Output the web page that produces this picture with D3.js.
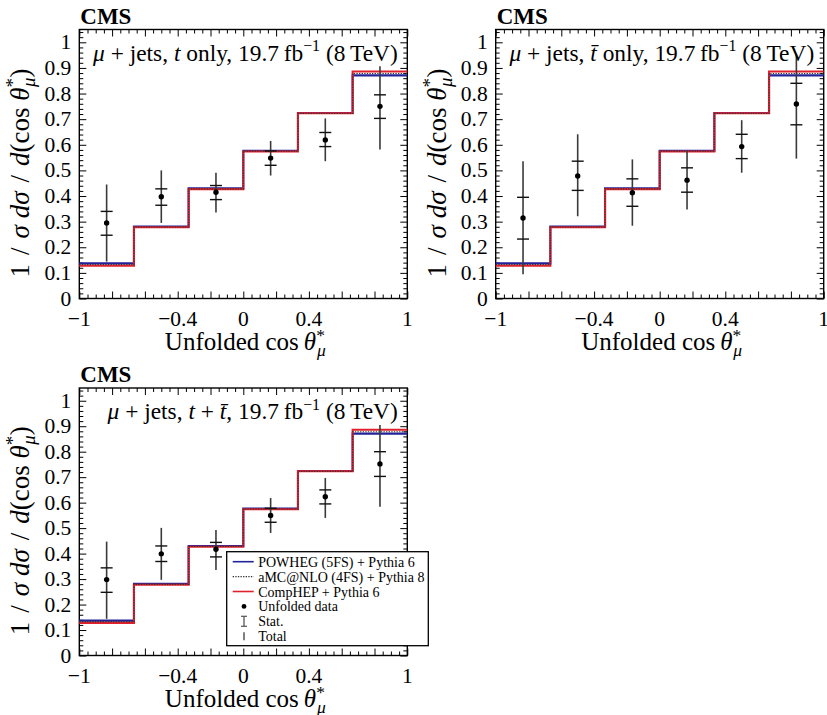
<!DOCTYPE html>
<html>
<head>
<meta charset="utf-8">
<script src="https://cdn.jsdelivr.net/npm/d3@7"></script>
<style>
  html, body { margin: 0; padding: 0; background: #fff; }
  svg { display: block; }
  text { font-family: "Liberation Serif", "DejaVu Serif", serif; fill: #000; }
</style>
</head>
<body>
<svg id="chart" width="827" height="715"></svg>
<script>
// Bin edges and centres of the unfolded cos(theta*_mu) distribution
const binEdges = [-1, -2 / 3, -1 / 3, 0, 1 / 3, 2 / 3, 1];
const binCenters = [-5 / 6, -1 / 2, -1 / 6, 1 / 6, 1 / 2, 5 / 6];

// Simulation predictions (normalised differential cross section)
const powhegValues = [0.137, 0.281, 0.430, 0.577, 0.724, 0.871];
const amcnloValues = [0.133, 0.279, 0.428, 0.575, 0.722, 0.878];
const comphepValues = [0.128, 0.278, 0.427, 0.574, 0.723, 0.886];

// Unfolded data: t only
const tOnlyValues = [0.295, 0.397, 0.415, 0.548, 0.619, 0.750];
const tOnlyStatLow = [0.247, 0.364, 0.386, 0.520, 0.593, 0.703];
const tOnlyStatHigh = [0.340, 0.428, 0.441, 0.576, 0.648, 0.795];
const tOnlyTotalLow = [0.144, 0.295, 0.336, 0.480, 0.536, 0.582];
const tOnlyTotalHigh = [0.445, 0.500, 0.491, 0.615, 0.703, 0.907];

// Unfolded data: tbar only
const tbarOnlyValues = [0.314, 0.478, 0.413, 0.462, 0.593, 0.759];
const tbarOnlyStatLow = [0.232, 0.422, 0.360, 0.415, 0.546, 0.678];
const tbarOnlyStatHigh = [0.395, 0.536, 0.467, 0.510, 0.641, 0.840];
const tbarOnlyTotalLow = [0.095, 0.321, 0.284, 0.347, 0.491, 0.546];
const tbarOnlyTotalHigh = [0.536, 0.641, 0.543, 0.576, 0.696, 0.955];

// Unfolded data: t + tbar
const tSumValues = [0.298, 0.399, 0.417, 0.550, 0.623, 0.752];
const tSumStatLow = [0.248, 0.369, 0.387, 0.523, 0.595, 0.703];
const tSumStatHigh = [0.344, 0.430, 0.444, 0.578, 0.650, 0.800];
const tSumTotalLow = [0.144, 0.297, 0.336, 0.481, 0.540, 0.584];
const tSumTotalHigh = [0.447, 0.501, 0.493, 0.618, 0.697, 0.905];

// Axis ticks
const xMajorTicks = [-1, -0.8, -0.6, -0.4, -0.2, 0, 0.2, 0.4, 0.6, 0.8, 1];
const xLabeledTicks = [-1, -0.4, 0, 0.4, 1];
const xTickLabels = ["\u22121", "\u22120.4", "0", "0.4", "1"];
const yMajorTicks = [0, 0.1, 0.2, 0.3, 0.4, 0.5, 0.6, 0.7, 0.8, 0.9, 1];
const yTickLabels = ["0", "0.1", "0.2", "0.3", "0.4", "0.5", "0.6", "0.7", "0.8", "0.9", "1"];

// Legend entries
const legendLabels = [
  "POWHEG (5FS) + Pythia 6",
  "aMC@NLO (4FS) + Pythia 8",
  "CompHEP + Pythia 6",
  "Unfolded data",
  "Stat.",
  "Total"
];

const BLUE = "#22229a";
const RED = "#e0202c";
const DOTTED = "#303030";

const svg = d3.select("#chart");

const panels = [
  { left: 79.3, right: 407.3, top: 29.5, bottom: 298.5, process: "t",
    values: tOnlyValues, statLow: tOnlyStatLow, statHigh: tOnlyStatHigh,
    totalLow: tOnlyTotalLow, totalHigh: tOnlyTotalHigh },
  { left: 495.7, right: 823.7, top: 29.5, bottom: 298.5, process: "tbar",
    values: tbarOnlyValues, statLow: tbarOnlyStatLow, statHigh: tbarOnlyStatHigh,
    totalLow: tbarOnlyTotalLow, totalHigh: tbarOnlyTotalHigh },
  { left: 79.3, right: 407.3, top: 388, bottom: 655.5, process: "sum",
    values: tSumValues, statLow: tSumStatLow, statHigh: tSumStatHigh,
    totalLow: tSumTotalLow, totalHigh: tSumTotalHigh, legend: true }
];

function range(a, b, step) {
  const out = [];
  const n = Math.round((b - a) / step);
  for (let i = 0; i <= n; i++) out.push(+(a + i * step).toFixed(4));
  return out;
}
const xMinorTicks = range(-1, 1, 0.05).filter(v => !xMajorTicks.some(m => Math.abs(m - v) < 1e-6));
const yMinorTicks = range(0, 1.04, 0.02).filter(v => !yMajorTicks.some(m => Math.abs(m - v) < 1e-6));

function styleAxis(sel) {
  sel.select(".domain").remove();
  sel.selectAll(".tick line").attr("stroke", "#000").attr("stroke-width", 1);
}

// Writes the mathematical parts of a label as italic / shifted tspans
function addRuns(textSel, runs, fs) {
  runs.forEach(r => {
    const t = textSel.append("tspan").text(r.t);
    if (r.i) t.attr("font-style", "italic");
    if (r.s) t.attr("font-size", fs * r.s);
    if (r.dx) t.attr("dx", r.dx);
    if (r.dy) t.attr("dy", r.dy);
  });
}

function drawPanel(p) {
  const g = svg.append("g");
  const x = d3.scaleLinear().domain([-1, 1]).range([p.left, p.right]);
  const y = d3.scaleLinear().domain([0, 1.05]).range([p.bottom, p.top]);

  // ticks on all four sides, pointing inwards
  const majorLen = 7, minorLen = 4;
  const axes = [
    { gen: () => d3.axisBottom(x), tr: `translate(0,${p.bottom})`, major: xMajorTicks, minor: xMinorTicks },
    { gen: () => d3.axisTop(x), tr: `translate(0,${p.top})`, major: xMajorTicks, minor: xMinorTicks },
    { gen: () => d3.axisLeft(y), tr: `translate(${p.left},0)`, major: yMajorTicks, minor: yMinorTicks },
    { gen: () => d3.axisRight(y), tr: `translate(${p.right},0)`, major: yMajorTicks, minor: yMinorTicks }
  ];
  axes.forEach(a => {
    g.append("g").attr("transform", a.tr)
      .call(a.gen().tickValues(a.major).tickSize(-majorLen).tickFormat(""))
      .call(styleAxis);
    g.append("g").attr("transform", a.tr)
      .call(a.gen().tickValues(a.minor).tickSize(-minorLen).tickFormat(""))
      .call(styleAxis);
  });

  // tick labels
  const fsTick = 21.5;
  g.append("g").selectAll("text").data(xLabeledTicks).join("text")
    .attr("x", d => x(d)).attr("y", p.bottom + 27)
    .attr("text-anchor", "middle").attr("font-size", fsTick)
    .text((d, i) => xTickLabels[i]);
  g.append("g").selectAll("text").data(yMajorTicks).join("text")
    .attr("x", p.left - 8).attr("y", d => y(d) + 7)
    .attr("text-anchor", "end").attr("font-size", fsTick)
    .text((d, i) => yTickLabels[i]);

  // frame
  g.append("rect").attr("x", p.left).attr("y", p.top)
    .attr("width", p.right - p.left).attr("height", p.bottom - p.top)
    .attr("fill", "none").attr("stroke", "#000").attr("stroke-width", 1.4);

  // predictions as step histograms
  const step = d3.line().x(d => x(d[0])).y(d => y(d[1])).curve(d3.curveStepAfter);
  const stepPts = vals => binEdges.map((e, i) => [e, vals[Math.min(i, vals.length - 1)]]);
  g.append("path").attr("d", step(stepPts(powhegValues)))
    .attr("fill", "none").attr("stroke", BLUE).attr("stroke-width", 2.1);
  g.append("path").attr("d", step(stepPts(comphepValues)))
    .attr("fill", "none").attr("stroke", RED).attr("stroke-width", 2.1);
  g.append("path").attr("d", step(stepPts(amcnloValues)))
    .attr("fill", "none").attr("stroke", DOTTED).attr("stroke-width", 1.1)
    .attr("stroke-dasharray", "1.3,1.3");

  // data with total and statistical uncertainties
  const pts = binCenters.map((c, i) => ({
    c, v: p.values[i], sl: p.statLow[i], sh: p.statHigh[i], tl: p.totalLow[i], th: p.totalHigh[i]
  }));
  const dg = g.append("g");
  dg.selectAll("line.total").data(pts).join("line").attr("class", "total")
    .attr("x1", d => x(d.c)).attr("x2", d => x(d.c))
    .attr("y1", d => y(d.tl)).attr("y2", d => y(d.th))
    .attr("stroke", "#3a3a3a").attr("stroke-width", 1.6);
  ["sl", "sh"].forEach(k => {
    dg.selectAll("line.cap" + k).data(pts).join("line").attr("class", "cap" + k)
      .attr("x1", d => x(d.c) - 6).attr("x2", d => x(d.c) + 6)
      .attr("y1", d => y(d[k])).attr("y2", d => y(d[k]))
      .attr("stroke", "#111").attr("stroke-width", 1.4);
  });
  dg.selectAll("circle").data(pts).join("circle")
    .attr("cx", d => x(d.c)).attr("cy", d => y(d.v)).attr("r", 2.7).attr("fill", "#000");

  // CMS label
  g.append("text").attr("x", p.left + 1).attr("y", p.top - 6)
    .attr("font-size", 23).attr("font-weight", "bold").text("CMS");

  // channel / luminosity annotation
  const fsAnn = 23.4;
  const ann = g.append("text").attr("x", p.right - 9.5).attr("y", p.top + 31)
    .attr("text-anchor", "end").attr("font-size", fsAnn);
  let proc;
  if (p.process === "t") proc = [{ t: "t", i: 1 }, { t: " only, " }];
  else if (p.process === "tbar") proc = [{ t: "t\u0304", i: 1 }, { t: " only, " }];
  else proc = [{ t: "t", i: 1 }, { t: " + " }, { t: "t\u0304", i: 1 }, { t: ", " }];
  addRuns(ann, [{ t: "\u03bc", i: 1 }, { t: " + jets, " }, ...proc,
    { t: "19.7\u2009fb" }, { t: "\u22121", s: 0.68, dy: -9.5 }, { t: " (8\u2009TeV)", dy: 9.5 }], fsAnn);

  // axis titles
  const fsTitle = 25;
  const xt = g.append("text").attr("x", (p.left + p.right) / 2 + 3).attr("y", p.bottom + 51)
    .attr("text-anchor", "middle").attr("font-size", fsTitle);
  addRuns(xt, [{ t: "Unfolded cos\u2009" }, { t: "\u03b8", i: 1 },
    { t: "*", s: 0.7, dy: -9 }, { t: "\u03bc", i: 1, s: 0.7, dx: -8, dy: 15 }, { t: "\u200a", dy: -6 }], fsTitle);

  const fsYTitle = 27;
  const yt = g.append("text")
    .attr("transform", `translate(${p.left - 50},${(p.top + p.bottom) / 2 + 9}) rotate(-90)`)
    .attr("text-anchor", "middle").attr("font-size", fsYTitle);
  addRuns(yt, [{ t: "1\u2004/\u2004" }, { t: "\u03c3", i: 1 }, { t: " " },
    { t: "d\u03c3", i: 1 }, { t: "\u2004/\u2004" }, { t: "d", i: 1 }, { t: "(cos " },
    { t: "\u03b8", i: 1 }, { t: "*", s: 0.7, dy: -10 }, { t: "\u03bc", i: 1, s: 0.7, dx: -9, dy: 16 },
    { t: ")", dy: -6 }], fsYTitle);

  if (p.legend) drawLegend();
}

function drawLegend() {
  const lg = svg.append("g");
  const bx = 226.7, by = 551.7, bw = 201.6, bh = 94;
  lg.append("rect").attr("x", bx).attr("y", by).attr("width", bw).attr("height", bh)
    .attr("fill", "#fff").attr("stroke", "#000").attr("stroke-width", 1.3);
  const rowY = i => by + 10 + i * 14.9;
  const mx = 244;
  legendLabels.forEach((lab, i) => {
    lg.append("text").attr("x", bx + 31.5).attr("y", rowY(i) + 5)
      .attr("font-size", 14).text(lab);
  });
  lg.append("line").attr("x1", bx + 6).attr("x2", bx + 27).attr("y1", rowY(0)).attr("y2", rowY(0))
    .attr("stroke", BLUE).attr("stroke-width", 1.6);
  lg.append("line").attr("x1", bx + 6).attr("x2", bx + 27).attr("y1", rowY(1)).attr("y2", rowY(1))
    .attr("stroke", DOTTED).attr("stroke-width", 1.3).attr("stroke-dasharray", "1.3,1.3");
  lg.append("line").attr("x1", bx + 6).attr("x2", bx + 27).attr("y1", rowY(2)).attr("y2", rowY(2))
    .attr("stroke", RED).attr("stroke-width", 1.6);
  lg.append("circle").attr("cx", mx).attr("cy", rowY(3)).attr("r", 2.4).attr("fill", "#000");
  // stat marker: I-beam
  lg.append("line").attr("x1", mx).attr("x2", mx).attr("y1", rowY(4) - 5).attr("y2", rowY(4) + 5)
    .attr("stroke", "#555").attr("stroke-width", 1.3);
  [-5, 5].forEach(o => lg.append("line").attr("x1", mx - 3).attr("x2", mx + 3)
    .attr("y1", rowY(4) + o).attr("y2", rowY(4) + o).attr("stroke", "#555").attr("stroke-width", 1.2));
  // total marker: plain bar
  lg.append("line").attr("x1", mx).attr("x2", mx).attr("y1", rowY(5) - 4).attr("y2", rowY(5) + 4)
    .attr("stroke", "#555").attr("stroke-width", 1.5);
}

panels.forEach(drawPanel);
</script>
</body>
</html>
